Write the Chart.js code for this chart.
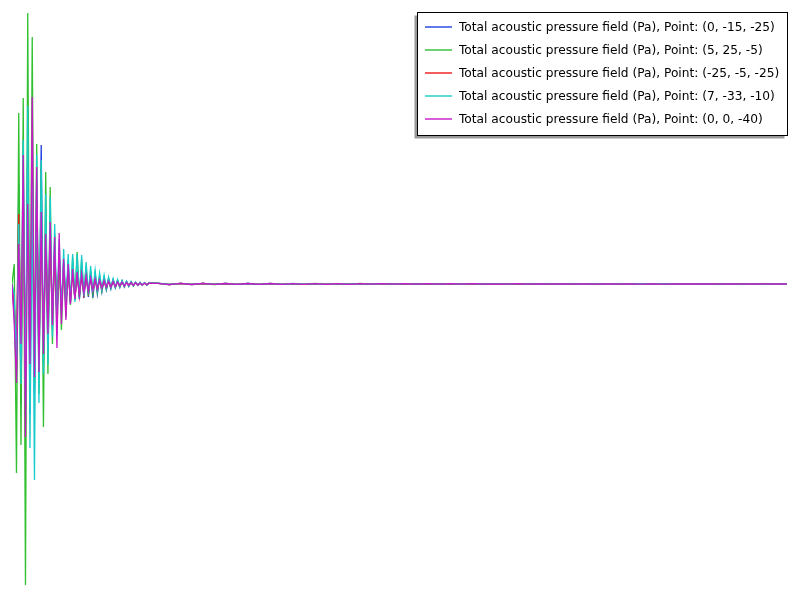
<!DOCTYPE html>
<html>
<head>
<meta charset="utf-8">
<script src="https://cdn.jsdelivr.net/npm/chart.js@4/dist/chart.umd.min.js"></script>
<style>
html,body{margin:0;padding:0;background:#fff;}
#wrap{width:800px;height:600px;}
</style>
</head>
<body>
<div id="wrap"><canvas id="c" width="800" height="600"></canvas></div>
<script>
// time samples (ms)
const timeDense = [0,0.1,0.2,0.3,0.4,0.5,0.6,0.7,0.8,0.9,1.0,1.1,1.2,1.3,1.4,1.5,1.6,1.7,1.8,1.9,2.0,2.1,2.2,2.3,2.4,2.5,2.6,2.7,2.8,2.9,3.0,3.1,3.2,3.3,3.4,3.5,3.6,3.7,3.8,3.9,4.0,4.1,4.2,4.3,4.4,4.5,4.6,4.7,4.8,4.9,5.0,5.1,5.2,5.3,5.4,5.5,5.6,5.7,5.8,5.9,6.0,6.1];
const timeTail = [6.5,7.0,7.5,8.0,8.5,9.0,9.5,10.0,10.5,11.0,11.5,12.0,12.5,13.0,13.5,14.0,14.5,15.0,15.5,16.0,16.5,17.0,17.5,18.0,18.5,19.0,19.5,20.0,20.5,21.0,21.5,22.0,22.5,23.0,23.5,24.0,24.5,25.0,25.5,26.0,26.5,27.0,27.5,28.0,28.5,29.0,29.5,30.0,30.5,31.0,31.5,32.0,32.5,33.0,33.5,34.0,34.5];

const labels = [
  "Total acoustic pressure field (Pa), Point: (0, -15, -25)",
  "Total acoustic pressure field (Pa), Point: (5, 25, -5)",
  "Total acoustic pressure field (Pa), Point: (-25, -5, -25)",
  "Total acoustic pressure field (Pa), Point: (7, -33, -10)",
  "Total acoustic pressure field (Pa), Point: (0, 0, -40)"
];

// Point (0, -15, -25)
const p1Dense = [0,-3,-9,10,-12,11,-10,14,-13,12,-11,10,-9,13.9,-8,7,-6.5,5,-4.5,4,-3.5,3,-2.6,2.2,-2,1.8,-1.8,1.5,-1.6,1.3,-1.5,1.1,-1.4,1,-1.3,0.9,-1.4,0.8,-1,0.6,-0.8,0.5,-0.6,0.45,-0.5,0.4,-0.4,0.35,-0.35,0.3,-0.3,0.25,-0.25,0.2,-0.2,0.18,-0.15,0.15,-0.12,0.12,-0.1,0.1];
const p1Tail = [0.07,-0.05,0.06,-0.05,0.05,-0.04,0.05,-0.04,0.05,-0.03,0.04,-0.03,0.04,-0.03,0.04,-0.03,0.03,-0.02,0.04,-0.02,0.03,-0.02,0.03,-0.02,0.03,-0.02,0.03,-0.01,0.02,-0.02,0.03,-0.01,0.02,-0.01,0.02,-0.01,0.02,-0.01,0.02,-0.01,0.02,-0.01,0.02,-0.01,0.02,-0.01,0.02,0,0.02,0,0.02,0,0.01,0,0.01,0,0.01];
// Point (5, 25, -5)
const p2Dense = [0,2,-18.9,17.1,-16.1,18.6,-30.1,27.1,-12,24.7,-10,14,-11,12,-14.3,11.2,-9,9.7,-6,5,-5,3.5,-4.6,2.1,-3.3,2.4,-2.1,2.7,-1.6,3.2,-1.4,2.4,-1.3,1.8,-1.2,1.3,-1.0,1.0,-0.8,0.8,-0.7,0.6,-0.5,0.5,-0.4,0.4,-0.35,0.3,-0.3,0.3,-0.25,0.25,-0.2,0.2,-0.2,0.15,-0.15,0.15,-0.1,0.12,-0.1,0.1];
const p2Tail = [0.08,-0.06,0.07,-0.05,0.06,-0.05,0.05,-0.04,0.06,-0.04,0.05,-0.03,0.04,-0.04,0.05,-0.03,0.04,-0.03,0.05,-0.02,0.04,-0.03,0.04,-0.02,0.03,-0.03,0.04,-0.02,0.03,-0.02,0.04,-0.02,0.03,-0.02,0.03,-0.02,0.03,-0.01,0.03,-0.02,0.03,-0.01,0.02,-0.02,0.03,-0.01,0.02,-0.01,0.03,-0.01,0.02,-0.01,0.02,-0.01,0.02,0.01,0.02];
// Point (-25, -5, -25)
const p3Dense = [0,-2,-6,7,-8,9,-9,10,-9,9,-8,8,-7,6.5,-6,5,-4.5,4,-3.5,3,-3,2.5,-2.5,2,-2,1.6,-1.8,1.3,-1.5,1,-1.2,0.9,-1,0.8,-0.8,0.6,-0.6,0.5,-0.5,0.4,-0.4,0.35,-0.35,0.3,-0.3,0.25,-0.25,0.2,-0.2,0.2,-0.18,0.15,-0.15,0.15,-0.12,0.12,-0.1,0.1,-0.1,0.08,-0.08,0.08];
const p3Tail = [0.06,-0.05,0.05,-0.04,0.05,-0.04,0.04,-0.03,0.04,-0.03,0.04,-0.03,0.03,-0.03,0.03,-0.02,0.03,-0.02,0.03,-0.02,0.03,-0.02,0.02,-0.02,0.02,-0.02,0.02,-0.01,0.02,-0.01,0.02,-0.01,0.02,-0.01,0.02,-0.01,0.02,-0.01,0.01,-0.01,0.01,-0.01,0.01,-0.01,0.01,0,0.01,0,0.01,0,0.01,0,0.01,0,0.01,0,0.01];
// Point (7, -33, -10)
const p4Dense = [0,-1,-8,6,-10,14.4,-12,17.8,-16.4,10,-19.6,13,-11.9,12.4,-9,9,-8.1,8.7,-5.3,6,-4,4.5,-3,3.5,-2.5,3,-2,3,-1.8,3,-1.5,2.9,-1.2,2.2,-1,1.8,-0.8,1.4,-0.6,1.1,-0.5,0.9,-0.4,0.7,-0.35,0.55,-0.3,0.45,-0.25,0.35,-0.2,0.3,-0.2,0.25,-0.15,0.2,-0.12,0.15,-0.1,0.12,-0.08,0.1];
const p4Tail = [0.08,-0.05,0.07,-0.04,0.06,-0.04,0.06,-0.03,0.05,-0.04,0.05,-0.03,0.05,-0.03,0.04,-0.03,0.04,-0.02,0.04,-0.02,0.04,-0.02,0.03,-0.02,0.03,-0.02,0.03,-0.02,0.03,-0.01,0.03,-0.01,0.03,-0.01,0.02,-0.01,0.02,-0.01,0.02,-0.01,0.02,-0.01,0.02,0,0.02,0,0.02,0,0.02,0,0.01,0,0.01,0,0.01,0,0.01];
// Point (0, 0, -40)
const p5Dense = [0,-4,-9.9,4,-6,12.9,-15.3,8,-8,18.7,-9.3,11.7,-8.8,7.2,-7,5,-5,6.2,-4.1,4.7,-6.4,5.1,-4,2.5,-3.6,2,-2,1.5,-1.5,1.2,-1.1,1,-0.9,0.8,-0.7,0.6,-0.6,0.5,-0.5,0.4,-0.4,0.35,-0.3,0.3,-0.3,0.25,-0.25,0.2,-0.2,0.2,-0.2,0.15,-0.15,0.15,-0.12,0.12,-0.1,0.1,-0.1,0.1,-0.08,0.08];
const p5Tail = [0.07,-0.06,0.06,-0.05,0.06,-0.04,0.05,-0.04,0.05,-0.04,0.05,-0.03,0.04,-0.03,0.04,-0.03,0.04,-0.03,0.03,-0.02,0.04,-0.02,0.03,-0.02,0.03,-0.02,0.03,-0.02,0.03,-0.02,0.02,-0.01,0.03,-0.01,0.02,-0.01,0.02,-0.01,0.02,-0.01,0.02,-0.01,0.02,-0.01,0.02,-0.01,0.02,0,0.02,0,0.01,0,0.01,0,0.01,0,0.02];

const colors = ["#1f3fe0","#30c030","#f01818","#18cccc","#c818c8"];

const time = timeDense.concat(timeTail);
function pts(dense, tail){
  const v = dense.concat(tail);
  const out = [];
  for(let i=0;i<time.length && i<v.length;i++) out.push({x:time[i], y:v[i]});
  return out;
}
const series = [pts(p1Dense,p1Tail),pts(p2Dense,p2Tail),pts(p3Dense,p3Tail),pts(p4Dense,p4Tail),pts(p5Dense,p5Tail)];

const legendBox = {
  id:'legendBox',
  afterDraw(chart){
    const ctx = chart.ctx;
    const x0=417.5, y0=12.5, w=370, h=123;
    ctx.save();
    ctx.fillStyle='#9a9a9a';
    ctx.fillRect(x0-3, y0+3, w, h);
    ctx.fillStyle='#ffffff';
    ctx.fillRect(x0, y0, w, h);
    ctx.strokeStyle='#000';
    ctx.lineWidth=1;
    ctx.strokeRect(x0, y0, w, h);
    ctx.font='12.2px "DejaVu Sans"';
    ctx.textBaseline='middle';
    chart.data.datasets.forEach((ds,i)=>{
      const yy = 27 + i*23;
      ctx.strokeStyle=ds.borderColor;
      ctx.lineWidth=1.4;
      ctx.beginPath(); ctx.moveTo(425, yy); ctx.lineTo(452, yy); ctx.stroke();
      ctx.fillStyle='#000';
      ctx.fillText(ds.label, 459, yy + 0.5);
    });
    ctx.restore();
  }
};

new Chart(document.getElementById('c'), {
  type:'line',
  data:{
    datasets: series.map((d,i)=>({
      label: labels[i], data: d, borderColor: colors[i], backgroundColor: colors[i],
      borderWidth:1.3, pointRadius:0, tension:0, fill:false, order: 5-i
    }))
  },
  options:{
    responsive:false, animation:false,
    layout:{padding:{left:12,right:13,top:0,bottom:0}},
    scales:{
      x:{type:'linear', min:0, max:34.5, display:false},
      y:{min:-31.6, max:28.4, display:false}
    },
    plugins:{legend:{display:false}, tooltip:{enabled:false}}
  },
  plugins:[legendBox]
});
</script>
</body>
</html>
